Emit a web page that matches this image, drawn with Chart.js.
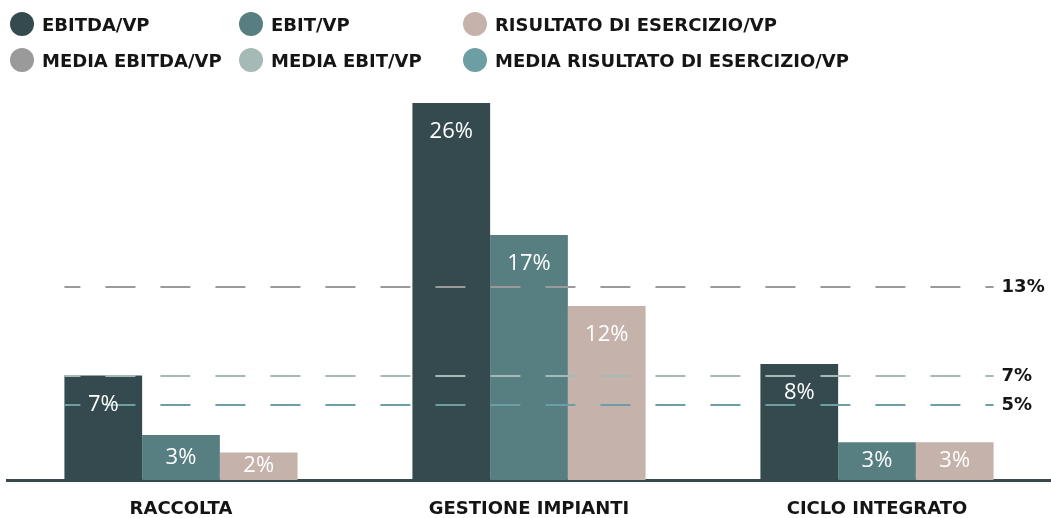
<!DOCTYPE html>
<html>
<head>
<meta charset="utf-8">
<script src="https://cdn.jsdelivr.net/npm/chart.js@4.4.1/dist/chart.umd.min.js"></script>
<style>
  html, body { margin: 0; padding: 0; background: #fff; }
  #wrap { position: relative; width: 1051px; height: 518px; }
  #legend {
    position: absolute; left: 10px; top: 12px;
    display: grid; grid-template-columns: 229px 224px auto;
    row-gap: 12px;
    font-family: "DejaVu Sans", sans-serif; font-weight: 700; font-size: 18px; color: #151515;
  }
  .item { display: flex; align-items: center; height: 24px; white-space: nowrap; }
  .dot { width: 24px; height: 24px; border-radius: 50%; margin-right: 8px; flex: none; }
</style>
</head>
<body>
<div id="wrap">
  <canvas id="chart" width="1051" height="518"></canvas>
  <div id="legend"></div>
</div>
<script>
const categories = ['RACCOLTA', 'GESTIONE IMPIANTI', 'CICLO INTEGRATO'];
const seriesNames = ['EBITDA/VP', 'EBIT/VP', 'RISULTATO DI ESERCIZIO/VP'];
const ebitda = [7.2, 26.0, 8.0];
const ebit = [3.1, 16.9, 2.6];
const risultato = [1.9, 12.0, 2.6];
const seriesColors = ['#344a4e', '#577e80', '#c5b3ab'];

const avgNames = ['MEDIA EBITDA/VP', 'MEDIA EBIT/VP', 'MEDIA RISULTATO DI ESERCIZIO/VP'];
const avgValues = [13.3, 7.2, 5.2];
const avgColors = ['#9a9a9a', '#a5b9b7', '#6d9ea4'];

// legend: bar series on the first row, averages on the second
const legend = document.getElementById('legend');
[[seriesNames, seriesColors], [avgNames, avgColors]].forEach(([names, colors]) => {
  names.forEach((n, i) => {
    const it = document.createElement('div');
    it.className = 'item';
    it.innerHTML = '<span class="dot" style="background:' + colors[i] + '"></span>' + n;
    legend.appendChild(it);
  });
});

const overlay = {
  id: 'overlay',
  afterDatasetsDraw(chart) {
    const ctx = chart.ctx;
    const y = chart.scales.y;
    const first = chart.getDatasetMeta(0).data[0];
    const lastMeta = chart.getDatasetMeta(chart.data.datasets.length - 1);
    const last = lastMeta.data[lastMeta.data.length - 1];
    const x0 = first.x - first.width / 2;
    const x1 = last.x + last.width / 2;

    ctx.save();
    // average lines
    avgValues.forEach((v, i) => {
      const py = Math.round(y.getPixelForValue(v));
      ctx.beginPath();
      ctx.setLineDash([30, 25]);
      ctx.lineDashOffset = 14;
      ctx.strokeStyle = avgColors[i];
      ctx.lineWidth = 2;
      ctx.moveTo(x0, py);
      ctx.lineTo(x1, py);
      ctx.stroke();
      ctx.setLineDash([]);
      ctx.fillStyle = '#151515';
      ctx.font = '700 18px "DejaVu Sans"';
      ctx.textAlign = 'left';
      ctx.textBaseline = 'middle';
      ctx.fillText(Math.round(v) + '%', x1 + 8, py);
    });

    // value labels inside bars
    ctx.fillStyle = '#ffffff';
    ctx.font = '400 22px "Open Sans"';
    ctx.textAlign = 'center';
    chart.data.datasets.forEach((ds, di) => {
      chart.getDatasetMeta(di).data.forEach((el, j) => {
        const h = el.base - el.y;
        const ly = h > 60 ? el.y + 29 : (el.y + el.base) / 2;
        ctx.fillText(Math.round(ds.data[j]) + '%', el.x, ly);
      });
    });
    ctx.restore();
  }
};

new Chart(document.getElementById('chart'), {
  type: 'bar',
  data: {
    labels: categories,
    datasets: [ebitda, ebit, risultato].map((d, i) => ({
      label: seriesNames[i],
      data: d,
      backgroundColor: seriesColors[i],
      categoryPercentage: 0.67,
      barPercentage: 1
    }))
  },
  options: {
    responsive: false,
    animation: false,
    layout: { padding: { top: 45, left: 7, right: 0, bottom: 0 } },
    plugins: { legend: { display: false }, tooltip: { enabled: false } },
    scales: {
      x: {
        afterFit(s) { s.height = 38; },
        grid: { display: false, drawTicks: false },
        border: { display: true, color: '#37494d', width: 3 },
        ticks: {
          padding: 19,
          color: '#151515',
          font: { family: 'DejaVu Sans', weight: '700', size: 18 }
        }
      },
      y: { display: false, min: 0, max: 30 }
    }
  },
  plugins: [overlay]
});
</script>
</body>
</html>
